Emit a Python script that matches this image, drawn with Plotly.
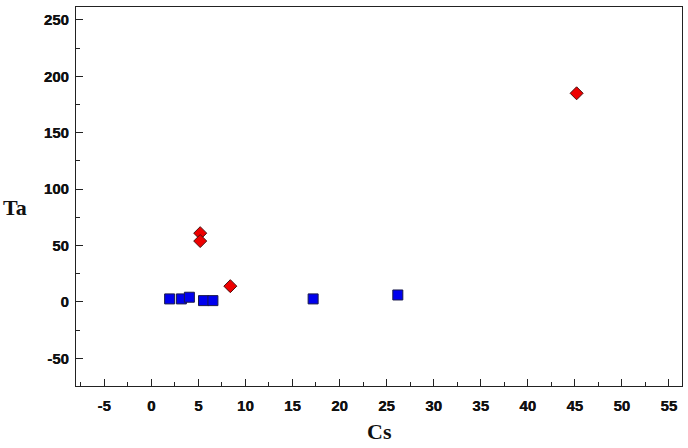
import plotly.graph_objects as go

# Data
red_x = [5.2, 5.2, 8.4, 45.2]
red_y = [61, 54, 14, 185]
blue_x = [1.95, 3.2, 4.05, 5.55, 6.55, 17.2, 26.2]
blue_y = [2.7, 2.7, 4.2, 1.2, 1.2, 2.7, 6.2]

x_ticks = [-5, 0, 5, 10, 15, 20, 25, 30, 35, 40, 45, 50, 55]
y_ticks = [-50, 0, 50, 100, 150, 200, 250]

x_title = "Cs"
y_title = "Ta"

fig = go.Figure()
fig.add_trace(go.Scatter(
    x=blue_x, y=blue_y, mode="markers",
    marker=dict(symbol="square", size=10, color="#0000ee",
                line=dict(color="#1a1a4a", width=1)),
    showlegend=False))
fig.add_trace(go.Scatter(
    x=red_x, y=red_y, mode="markers",
    marker=dict(symbol="diamond", size=10, color="#ee0000",
                line=dict(color="#4a1010", width=1)),
    showlegend=False))

tickfont = dict(family="Arial, Liberation Sans, sans-serif", size=15, color="#111111",
                weight="bold", shadow="0.3px 0 0 #111111")

fig.update_xaxes(
    range=[-8.0, 56.4], tickmode="array", tickvals=x_ticks,
    ticktext=[str(v) for v in x_ticks],
    ticks="inside", ticklen=7, tickwidth=1, tickcolor="#222222",
    minor=dict(ticks="inside", ticklen=4, dtick=2.5, tick0=-5, tickcolor="#222222", showgrid=False),
    showline=True, linecolor="#222222", linewidth=1.2, mirror=True,
    showgrid=False, zeroline=False, tickfont=tickfont, ticklabelstandoff=6)
fig.update_yaxes(
    range=[-74.5, 261.5], tickmode="array", tickvals=y_ticks,
    ticktext=[str(v) for v in y_ticks],
    ticks="inside", ticklen=7, tickwidth=1, tickcolor="#222222",
    minor=dict(ticks="inside", ticklen=4, dtick=25, tick0=-50, tickcolor="#222222", showgrid=False),
    showline=True, linecolor="#222222", linewidth=1.2, mirror=True,
    showgrid=False, zeroline=False, tickfont=tickfont, ticklabelstandoff=3)

titlefont = dict(family="Times New Roman, Liberation Serif, serif", size=22, color="#111111", weight="bold")
fig.add_annotation(text=y_title, xref="paper", yref="paper",
                   x=-0.1, y=0.47, xanchor="center", yanchor="middle",
                   showarrow=False, font=titlefont)
fig.add_annotation(text=x_title, xref="paper", yref="paper",
                   x=0.5, y=-0.121, xanchor="center", yanchor="middle",
                   showarrow=False, font=titlefont)

fig.update_layout(
    width=688, height=448,
    margin=dict(l=76, r=6, t=7, b=62),
    plot_bgcolor="white", paper_bgcolor="white")

fig.write_html("out.html")
